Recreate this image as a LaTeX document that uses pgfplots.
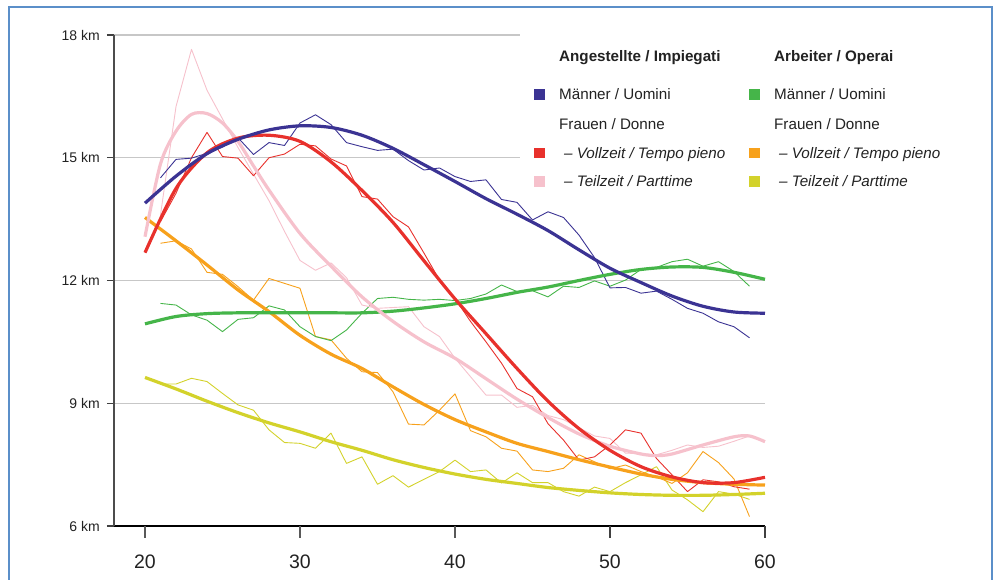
\documentclass[border=0pt]{standalone}
\usepackage{pgfplots}
\pgfplotsset{compat=1.18}
\usepackage{fontspec}
\setmainfont{Liberation Sans}
\definecolor{cblue}{HTML}{3B3393}
\definecolor{cred}{HTML}{E8312C}
\definecolor{cpink}{HTML}{F6C1CC}
\definecolor{cgreen}{HTML}{45B549}
\definecolor{corange}{HTML}{F7A11C}
\definecolor{cyellow}{HTML}{D3D22B}
\definecolor{cframe}{HTML}{5B8FC9}
\definecolor{ctext}{HTML}{222222}
\newcommand\fs{\fontsize{15.2}{18}\selectfont}
\begin{document}
\begin{tikzpicture}
\path[use as bounding box] (0pt,0pt) rectangle (997pt,579pt);
\draw[cframe, line width=1.4pt] (9pt,-20pt) -- (9pt,572pt) -- (992pt,572pt) -- (992pt,-20pt);
\begin{axis}[
  at={(114pt,53pt)}, anchor=south west,
  scale only axis, width=651pt, height=491pt,
  xmin=18, xmax=60, ymin=6, ymax=18,
  clip=false,
  axis lines*=left,
  axis line style={-},
  x axis line style={black, line width=1.2pt},
  y axis line style={black!70, line width=1.2pt},
  xtick={20,30,40,50,60},
  ytick={6,9,12,15,18},
  yticklabels={6 km,9 km,12 km,15 km,18 km},
  tick align=outside,
  major tick length=7pt,
  xtick style={draw=none},
  ytick style={black!75, line width=1.2pt},
  ymajorgrids,
  major grid style={color=black!22, line width=1.2pt},
  /pgf/number format/assume math mode=true,
  yticklabel style={font=\fontsize{14}{16}\selectfont, text=ctext, inner sep=0pt, xshift=-7pt},
  xticklabel style={font=\fontsize{19.5}{22}\selectfont, text=ctext, inner sep=0pt, anchor=north, yshift=-22pt},
]
% x ticks
\draw[black!65, line width=1.2pt] (axis cs:20,6) -- ++(0pt,-12pt);
\draw[black!65, line width=1.2pt] (axis cs:30,6) -- ++(0pt,-12pt);
\draw[black!65, line width=1.2pt] (axis cs:40,6) -- ++(0pt,-12pt);
\draw[black!75, line width=1.2pt] (axis cs:50,6) -- ++(0pt,-12pt);
\draw[black!75, line width=1.2pt] (axis cs:60,6) -- ++(0pt,-12pt);
% thin lines
\addplot[cyellow, line width=0.9pt, line join=round] coordinates {
(21,9.47)(22,9.47)(23,9.61)(24,9.53)(25,9.24)(26,8.96)(27,8.83)(28,8.35)(29,8.04)(30,8.02)
(31,7.90)(32,8.27)(33,7.53)(34,7.69)(35,7.02)(36,7.23)(37,6.95)(38,7.14)(39,7.33)(40,7.61)
(41,7.33)(42,7.37)(43,7.05)(44,7.30)(45,7.06)(46,7.06)(47,6.84)(48,6.73)(49,6.95)(50,6.84)
(51,7.06)(52,7.25)(53,7.45)(54,6.88)(55,6.64)(56,6.35)(57,6.84)(58,6.78)(59,6.65)};
\addplot[corange, line width=0.9pt, line join=round] coordinates {
(21,12.91)(22,12.97)(23,12.77)(24,12.20)(25,12.15)(26,11.85)(27,11.52)(28,12.05)(29,11.93)(30,11.81)
(31,10.63)(32,10.55)(33,10.10)(34,9.77)(35,9.75)(36,9.28)(37,8.49)(38,8.47)(39,8.83)(40,9.23)
(41,8.33)(42,8.18)(43,7.90)(44,7.83)(45,7.37)(46,7.33)(47,7.41)(48,7.74)(49,7.57)(50,7.40)
(51,7.49)(52,7.33)(53,7.20)(54,7.04)(55,7.30)(56,7.82)(57,7.55)(58,7.15)(59,6.23)};
\addplot[cgreen, line width=0.9pt, line join=round] coordinates {
(21,11.44)(22,11.40)(23,11.16)(24,11.03)(25,10.75)(26,11.05)(27,11.09)(28,11.38)(29,11.28)(30,10.87)
(31,10.63)(32,10.53)(33,10.79)(34,11.20)(35,11.56)(36,11.59)(37,11.54)(38,11.52)(39,11.54)(40,11.51)
(41,11.56)(42,11.67)(43,11.89)(44,11.73)(45,11.75)(46,11.60)(47,11.86)(48,11.83)(49,11.99)(50,11.86)
(51,12.01)(52,12.27)(53,12.32)(54,12.46)(55,12.52)(56,12.35)(57,12.46)(58,12.22)(59,11.86)};
\addplot[cpink, line width=0.9pt, line join=round] coordinates {
(21,13.60)(22,16.25)(23,17.65)(24,16.65)(25,15.95)(26,15.25)(27,14.60)(28,13.95)(29,13.20)(30,12.49)
(31,12.25)(32,12.43)(33,12.07)(34,11.40)(35,11.32)(36,11.34)(37,11.36)(38,10.87)(39,10.63)(40,10.10)
(41,9.65)(42,9.20)(43,9.20)(44,8.90)(45,8.95)(46,8.70)(47,8.60)(48,8.40)(49,8.20)(50,8.14)
(51,7.78)(52,7.77)(53,7.74)(54,7.85)(55,7.98)(56,7.92)(57,7.95)(58,8.07)(59,8.20)};
\addplot[cred, line width=0.9pt, line join=round] coordinates {
(21,13.44)(22,14.13)(23,15.00)(24,15.62)(25,15.03)(26,14.99)(27,14.56)(28,15.00)(29,15.09)(30,15.33)
(31,15.29)(32,14.97)(33,14.80)(34,14.05)(35,13.99)(36,13.56)(37,13.31)(38,12.67)(39,12.01)(40,11.56)
(41,11.00)(42,10.50)(43,9.98)(44,9.36)(45,9.16)(46,8.50)(47,8.10)(48,7.61)(49,7.69)(50,7.98)
(51,8.35)(52,8.27)(53,7.65)(54,7.25)(55,6.84)(56,7.13)(57,7.08)(58,6.96)(59,6.90)};
\addplot[cblue, line width=0.9pt, line join=round] coordinates {
(21,14.51)(22,14.96)(23,14.99)(24,15.11)(25,15.26)(26,15.49)(27,15.08)(28,15.37)(29,15.30)(30,15.85)
(31,16.05)(32,15.81)(33,15.37)(34,15.27)(35,15.18)(36,15.21)(37,14.93)(38,14.70)(39,14.75)(40,14.54)
(41,14.42)(42,14.46)(43,13.98)(44,13.91)(45,13.48)(46,13.68)(47,13.54)(48,13.11)(49,12.56)(50,11.82)
(51,11.83)(52,11.69)(53,11.74)(54,11.54)(55,11.32)(56,11.20)(57,10.99)(58,10.87)(59,10.60)};
% thick smoothed lines
\addplot[cyellow, line width=3.2pt, smooth] coordinates {
(20,9.63)(22,9.35)(24,9.05)(26,8.77)(28,8.52)(30,8.30)(32,8.06)(34,7.85)(36,7.62)(38,7.43)
(40,7.27)(42,7.14)(44,7.04)(46,6.94)(48,6.87)(50,6.81)(52,6.77)(54,6.75)(56,6.75)(58,6.77)(60,6.80)};
\addplot[corange, line width=3.2pt, smooth] coordinates {
(20,13.54)(22,12.97)(24,12.38)(26,11.77)(28,11.24)(30,10.66)(32,10.20)(34,9.85)(36,9.40)(38,8.97)
(40,8.60)(42,8.30)(44,8.02)(46,7.82)(48,7.62)(50,7.44)(52,7.27)(54,7.14)(56,7.06)(58,7.02)(60,7.00)};
\addplot[cgreen, line width=3.2pt, smooth] coordinates {
(20,10.94)(22,11.12)(24,11.19)(26,11.21)(28,11.21)(30,11.21)(32,11.21)(34,11.21)(36,11.25)(38,11.33)
(40,11.43)(42,11.56)(44,11.71)(46,11.84)(48,12.00)(50,12.15)(52,12.27)(54,12.33)(56,12.32)(58,12.20)(60,12.03)};
\addplot[cpink, line width=3.2pt, smooth] coordinates {
(20,13.07)(21,14.85)(22,15.65)(23,16.06)(24,16.08)(25,15.85)(26,15.40)(27,14.80)(28,14.21)(30,13.15)
(32,12.35)(34,11.60)(36,11.00)(38,10.50)(40,10.10)(42,9.60)(44,9.10)(46,8.65)(48,8.25)(50,7.95)
(52,7.76)(53,7.72)(54,7.76)(56,7.98)(58,8.18)(59,8.20)(60,8.06)};
\addplot[cred, line width=3.2pt, smooth] coordinates {
(20,12.68)(22,14.25)(24,15.12)(26,15.48)(28,15.55)(30,15.40)(32,14.90)(34,14.20)(36,13.42)(38,12.48)
(40,11.55)(42,10.70)(44,9.85)(46,9.05)(48,8.38)(50,7.85)(52,7.45)(54,7.20)(56,7.06)(58,7.06)(60,7.19)};
\addplot[cblue, line width=3.2pt, smooth] coordinates {
(20,13.89)(22,14.55)(24,15.10)(26,15.45)(28,15.68)(30,15.78)(32,15.74)(34,15.55)(36,15.23)(38,14.83)
(40,14.42)(42,14.00)(44,13.62)(46,13.22)(48,12.75)(50,12.30)(52,11.95)(54,11.62)(56,11.37)(58,11.23)(60,11.20)};
\end{axis}
% legend area
\fill[white] (520pt,384pt) rectangle (989pt,560pt);
\begin{scope}[every node/.style={anchor=base west, inner sep=0pt, text=ctext, font=\fs}]
\node[font=\fs\bfseries] at (559pt,517pt) {Angestellte / Impiegati};
\node[font=\fs\bfseries] at (774pt,517pt) {Arbeiter / Operai};
\node at (559pt,479pt) {Männer / Uomini};
\node at (774pt,479pt) {Männer / Uomini};
\node at (559pt,449.7pt) {Frauen / Donne};
\node at (774pt,449.7pt) {Frauen / Donne};
\node[font=\fs\itshape] at (564pt,420.7pt) {– Vollzeit / Tempo pieno};
\node[font=\fs\itshape] at (779pt,420.7pt) {– Vollzeit / Tempo pieno};
\node[font=\fs\itshape] at (564pt,392.3pt) {– Teilzeit / Parttime};
\node[font=\fs\itshape] at (779pt,392.3pt) {– Teilzeit / Parttime};
\end{scope}
\fill[cblue] (534pt,479.2pt) rectangle (545pt,489.9pt);
\fill[cred] (534pt,420.7pt) rectangle (545pt,431.2pt);
\fill[cpink] (534pt,392.3pt) rectangle (545pt,402.8pt);
\fill[cgreen] (749pt,479.2pt) rectangle (760pt,489.9pt);
\fill[corange] (749pt,420.7pt) rectangle (760pt,431.2pt);
\fill[cyellow] (749pt,392.3pt) rectangle (760pt,402.8pt);
\end{tikzpicture}
\end{document}
